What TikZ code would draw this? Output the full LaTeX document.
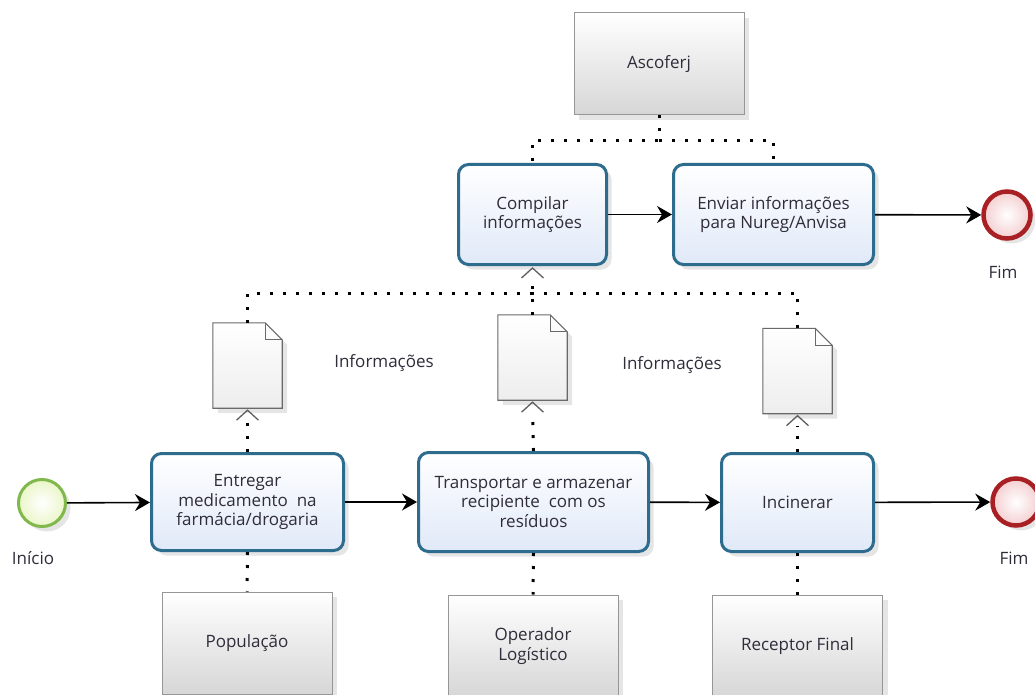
\documentclass[tikz,border=0pt]{standalone}
\usepackage{fontspec}
\setmainfont{Open Sans}
\usetikzlibrary{arrows.meta,shadows,calc}

\definecolor{taskline}{RGB}{46,108,142}
\definecolor{taskfill}{RGB}{224,233,248}
\definecolor{txt}{RGB}{48,44,58}
\definecolor{startline}{RGB}{128,184,76}
\definecolor{startfill}{RGB}{234,246,200}
\definecolor{endline}{RGB}{168,32,36}
\definecolor{endfill}{RGB}{244,206,208}
\definecolor{partline}{RGB}{150,150,150}
\definecolor{docline}{RGB}{105,105,105}
\definecolor{tipgray}{RGB}{95,95,95}

\tikzset{
  softshadow/.style={drop shadow={opacity=0.2, shadow xshift=5pt, shadow yshift=-5pt}},
  lbl/.style={font=\fontsize{17}{19.5}\selectfont, text=txt, align=center},
  task/.style={lbl, rectangle, rounded corners=10pt, draw=taskline, line width=3pt,
    top color=white, bottom color=taskfill, softshadow, inner sep=2pt},
  party/.style={lbl, rectangle, draw=partline, line width=1pt,
    top color=white, bottom color=black!16, softshadow,
    minimum width=170pt, minimum height=102pt},
  startev/.style={circle, draw=startline, line width=3pt, minimum size=47pt,
    inner color=white, outer color=startfill, softshadow},
  endev/.style={circle, draw=endline, line width=4.5pt, minimum size=47pt,
    inner color=white, outer color=endfill, softshadow},
  docbox/.style={rectangle, minimum width=69pt, minimum height=85pt, inner sep=0pt},
  docpaper/.style={draw=docline, line width=1.1pt, top color=white, bottom color=black!7,
    softshadow},
  flow/.style={line width=1.6pt, black, -{Stealth[length=15pt,width=17pt,inset=5pt]}},
  assoc/.style={line width=3pt, black, dash pattern=on 3pt off 10pt},
  tipped/.style={shorten >=12pt},
  chevron/.style={draw=tipgray, line width=1.3pt, line join=miter}
}

% folded-corner sheet drawn over a named docbox node
\newcommand\docsheet[1]{%
  \path[docpaper] (#1.south west) -- (#1.north west) -- ($(#1.north east)+(-17,0)$)
    -- ($(#1.north east)+(0,17)$) -- (#1.south east) -- cycle;
  \draw[docline, line width=1.1pt] ($(#1.north east)+(-17,0)$) |- ($(#1.north east)+(0,17)$);
}
% open association head just below an anchor
\newcommand\openhead[1]{%
  \draw[chevron] ($(#1)+(-11,12)$) -- ($(#1)+(0,2)$) -- ($(#1)+(11,12)$);
}

\begin{document}
\begin{tikzpicture}[x=1pt, y=-1pt]
\useasboundingbox (0,0) rectangle (1035,695);
\clip (0,0) rectangle (1035,695);
\fill[white] (0,0) rectangle (1035,695);

% participants
\node[party] (asc) at (659,64) {Ascoferj};
\node[party] (pop) at (247,643) {População};
\node[party] (opl) at (533,646) {Operador\\Logístico};
\node[party] (rec) at (797.5,646) {Receptor Final};

% top row tasks
\node[task, minimum width=148pt, minimum height=100pt] (comp) at (532.5,214.5) {Compilar\\informações};
\node[task, minimum width=200pt, minimum height=100pt] (env) at (773.5,214.5) {Enviar informações\\para Nureg/Anvisa};

% bottom row tasks
\node[task, minimum width=192pt, minimum height=97pt] (t1) at (247.5,502) {Entregar\\medicamento\ \ na\\farmácia/drogaria};
\node[task, minimum width=230pt, minimum height=99pt] (t2) at (533.5,502) {Transportar e armazenar\\recipiente\ \ com os\\resíduos};
\node[task, minimum width=152pt, minimum height=98pt] (t3) at (797.5,502.5) {Incinerar};

% events
\node[startev] (ini) at (42,503) {};
\node[lbl] (lini) at (33,558) {Início};
\node[endev] (fim1) at (1007,215) {};
\node[lbl] (lfim1) at (1003,272) {Fim};
\node[endev] (fim2) at (1016,502) {};
\node[lbl] (lfim2) at (1014,558) {Fim};

% data objects
\node[docbox] (d1) at (247.5,365.5) {};
\node[docbox] (d2) at (532.5,357.5) {};
\node[docbox] (d3) at (797.5,371) {};
\docsheet{d1}
\docsheet{d2}
\docsheet{d3}
\node[lbl] (inf1) at (384,363) {Informações};
\node[lbl] (inf2) at (672,365) {Informações};

% sequence flows
\draw[flow] (ini) -- (t1);
\draw[flow] (t1) -- (t2);
\draw[flow] (t2) -- (t3);
\draw[flow] (t3) -- (fim2);
\draw[flow] (comp) -- (env);
\draw[flow] (env) -- (fim1);

% associations
\coordinate (bus) at (532.5,293);
\draw[assoc] (asc.south) -- ++(0,25) -| (comp.north);
\draw[assoc] (asc.south) ++(0,25) -| (env.north);
\draw[assoc, tipped] (t1.north) -- (d1.south);
\draw[assoc, tipped] (t2.north) -- (d2.south);
\draw[assoc, tipped] (t3.north) -- (d3.south);
\draw[assoc] (d1.north) |- (bus);
\draw[assoc] (d3.north) |- (bus);
\draw[assoc, tipped] (d2.north) -- (comp.south);
\draw[assoc] (t1.south) -- (pop.north);
\draw[assoc] (t2.south) -- (opl.north);
\draw[assoc] (t3.south) -- (rec.north);
\openhead{d1.south}
\openhead{d2.south}
\openhead{d3.south}
\openhead{comp.south}
\end{tikzpicture}
\end{document}
